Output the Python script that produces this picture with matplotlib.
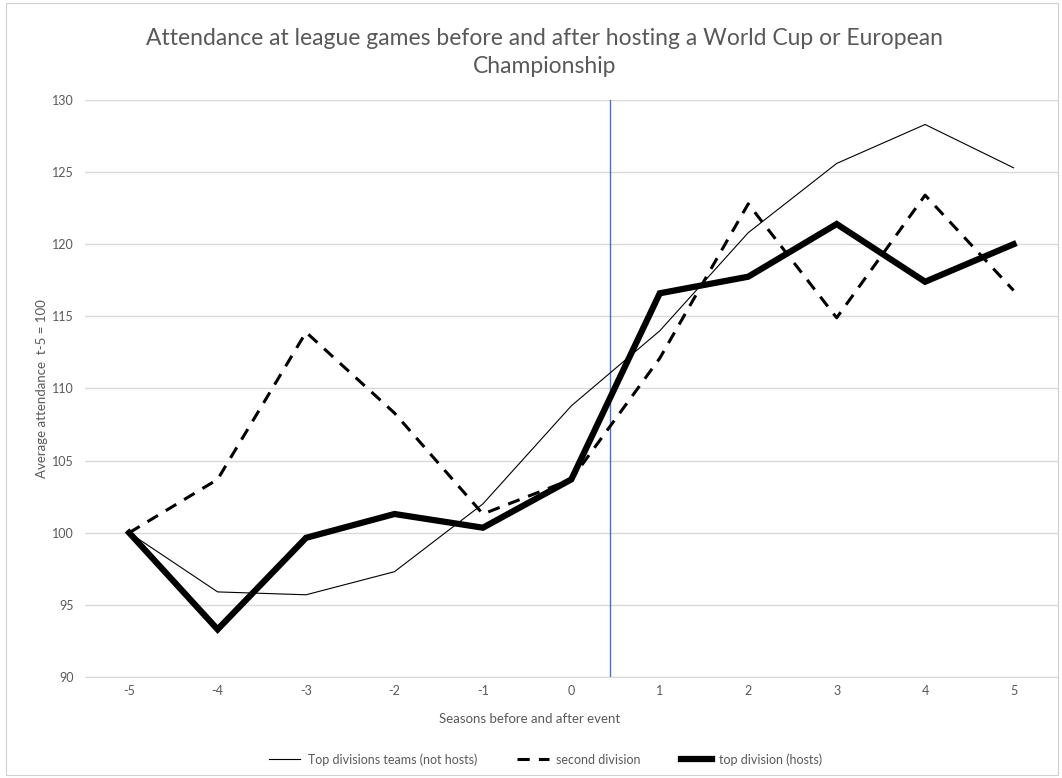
import matplotlib
matplotlib.use("Agg")
import matplotlib.pyplot as plt
from matplotlib.patches import Rectangle

# Seasons relative to the tournament (0 = last season before the event)
seasons = [-5, -4, -3, -2, -1, 0, 1, 2, 3, 4, 5]
season_labels = [str(s) for s in seasons]

# Average attendance indexed to t-5 = 100
top_not_hosts = [100.0, 95.9, 95.7, 97.3, 102.0, 108.8, 114.0, 120.8, 125.6, 128.3, 125.3]
second_division = [100.0, 103.7, 113.9, 108.3, 101.3, 103.7, 112.1, 122.8, 114.9, 123.4, 116.8]
top_hosts = [100.0, 93.3, 99.65, 101.3, 100.35, 103.7, 116.6, 117.75, 121.4, 117.4, 120.0]

event_position = 0.44  # the tournament itself, between season 0 and season 1

y_ticks = [90, 95, 100, 105, 110, 115, 120, 125, 130]

plt.rcParams["font.family"] = ["Lato", "DejaVu Sans"]
text_grey = "#595959"
grid_grey = "#d9d9d9"

fig = plt.figure(figsize=(10.62, 7.78), dpi=100)
fig.patch.set_facecolor("white")

# chart-area border
fig.add_artist(Rectangle((0.006, 0.004), 0.99, 0.992, transform=fig.transFigure,
                         fill=False, edgecolor="#d0d0d0", linewidth=0.8))

ax = fig.add_axes([0.080, 0.1298, 0.916, 0.7417])

x = list(range(len(seasons)))
ax.plot(x, top_not_hosts, color="black", linewidth=0.8,
        label="Top divisions teams (not hosts)", zorder=3)
ax.plot(x, second_division, color="black", linewidth=2.2, dashes=(4, 3),
        label="second division", zorder=3)
ax.plot(x, top_hosts, color="black", linewidth=4.5, solid_joinstyle="miter",
        label="top division (hosts)", zorder=4)

ax.axvline(seasons.index(0) + event_position, color="#4472C4", linewidth=1.0, zorder=2)

ax.set_xlim(-0.5, len(seasons) - 0.5)
ax.set_ylim(90, 130)
ax.set_xticks(x)
ax.set_xticklabels(season_labels)
ax.set_yticks(y_ticks)

ax.grid(axis="y", color=grid_grey, linewidth=1.0)
ax.set_axisbelow(True)
for side in ["top", "right", "left"]:
    ax.spines[side].set_visible(False)
ax.spines["bottom"].set_color(grid_grey)
ax.tick_params(axis="both", length=0, labelsize=9, labelcolor=text_grey)
ax.tick_params(axis="x", pad=6)
ax.tick_params(axis="y", pad=8)

ax.set_xlabel("Seasons before and after event", fontsize=9.5, color=text_grey, labelpad=8)
ax.xaxis.set_label_coords(0.457, -0.062)
ax.set_ylabel("Average attendance  t-5 = 100", fontsize=9.5, color=text_grey, labelpad=3)

fig.text(0.513, 0.932, "Attendance at league games before and after hosting a World Cup or European\nChampionship",
         ha="center", va="center", fontsize=16.5, color=text_grey, linespacing=1.42)

fig.legend(loc="center", bbox_to_anchor=(0.514, 0.024), ncol=3, frameon=False,
           fontsize=9, labelcolor=text_grey, handlelength=2.5, columnspacing=3.2,
           handletextpad=0.6)

fig.savefig("out.png", dpi=100, facecolor="white")
